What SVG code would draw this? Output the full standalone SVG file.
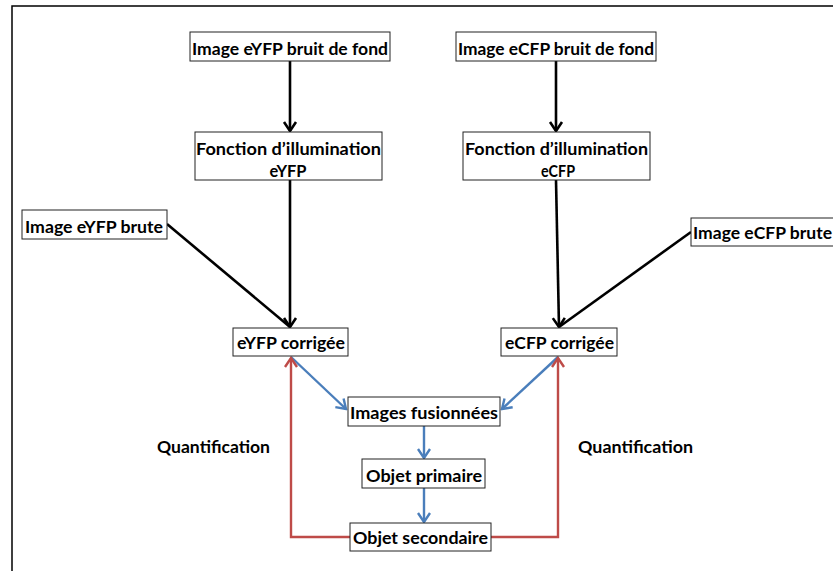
<svg xmlns="http://www.w3.org/2000/svg" width="833" height="571" viewBox="0 0 833 571">
<defs>
<style>
.box{fill:#fff;stroke:#222;stroke-width:1}
.t{font-family:Lato,"Liberation Sans",sans-serif;font-weight:bold;font-size:17.5px;fill:#000;text-anchor:middle}
.k{fill:none;stroke:#000;stroke-width:2.6}
.b{fill:none;stroke:#4A7EBB;stroke-width:2.4}
.r{fill:none;stroke:#BE4B48;stroke-width:2.4}
</style>
<marker id="ak" markerUnits="userSpaceOnUse" viewBox="-12 -8 14 16" markerWidth="14" markerHeight="16" refX="0" refY="0" orient="auto">
<path d="M-9,-6 L0,0 L-9,6" fill="none" stroke="#000" stroke-width="2.6"/>
</marker>
<marker id="ab" markerUnits="userSpaceOnUse" viewBox="-12 -8 14 16" markerWidth="14" markerHeight="16" refX="0" refY="0" orient="auto">
<path d="M-9,-6 L0,0 L-9,6" fill="none" stroke="#4A7EBB" stroke-width="2.4"/>
</marker>
<marker id="ar" markerUnits="userSpaceOnUse" viewBox="-12 -8 14 16" markerWidth="14" markerHeight="16" refX="0" refY="0" orient="auto">
<path d="M-9,-6 L0,0 L-9,6" fill="none" stroke="#BE4B48" stroke-width="2.4"/>
</marker>
</defs>
<rect x="0" y="0" width="833" height="571" fill="#fff"/>
<rect x="12" y="6" width="830" height="580" fill="none" stroke="#000" stroke-width="1.5"/>

<g id="connectors">
<line class="k" x1="290" y1="61" x2="290" y2="131" marker-end="url(#ak)"/>
<line class="k" x1="290" y1="180" x2="290" y2="327" marker-end="url(#ak)"/>
<line class="k" x1="167" y1="224" x2="290" y2="327"/>
<line class="k" x1="556" y1="61" x2="556" y2="131" marker-end="url(#ak)"/>
<line class="k" x1="556" y1="180" x2="559" y2="327" marker-end="url(#ak)"/>
<line class="k" x1="691" y1="232" x2="559" y2="327"/>
<line class="b" x1="291" y1="357" x2="346" y2="409" marker-end="url(#ab)"/>
<line class="b" x1="558" y1="357" x2="502" y2="409" marker-end="url(#ab)"/>
<line class="b" x1="424" y1="426" x2="424" y2="458" marker-end="url(#ab)"/>
<line class="b" x1="424" y1="488" x2="424" y2="522" marker-end="url(#ab)"/>
<polyline class="r" points="350,537 291,537 291,358" marker-end="url(#ar)"/>
<polyline class="r" points="491,537 558,537 558,358" marker-end="url(#ar)"/>
</g>

<g id="n1"><rect class="box" x="190" y="32" width="200" height="29"/><text class="t" x="290" y="55" textLength="196" lengthAdjust="spacingAndGlyphs">Image eYFP bruit de fond</text></g>
<g id="n2"><rect class="box" x="195" y="132" width="187" height="48"/><text class="t" x="288.5" y="155" textLength="185" lengthAdjust="spacingAndGlyphs">Fonction d’illumination</text><text class="t" x="288" y="176.5" textLength="37" lengthAdjust="spacingAndGlyphs">eYFP</text></g>
<g id="n3"><rect class="box" x="456" y="32" width="200" height="29"/><text class="t" x="556" y="55" textLength="196" lengthAdjust="spacingAndGlyphs">Image eCFP bruit de fond</text></g>
<g id="n4"><rect class="box" x="463" y="132" width="187" height="48"/><text class="t" x="556.5" y="155" textLength="183" lengthAdjust="spacingAndGlyphs">Fonction d’illumination</text><text class="t" x="558" y="176.5" textLength="34" lengthAdjust="spacingAndGlyphs">eCFP</text></g>
<g id="n5"><rect class="box" x="22" y="210" width="145" height="29"/><text class="t" x="94" y="233" textLength="138" lengthAdjust="spacingAndGlyphs">Image eYFP brute</text></g>
<g id="n6"><rect class="box" x="691" y="218" width="150" height="28"/><text class="t" x="762.5" y="239" textLength="139" lengthAdjust="spacingAndGlyphs">Image eCFP brute</text></g>
<g id="n7"><rect class="box" x="233" y="328" width="115" height="28"/><text class="t" x="291" y="349" textLength="108" lengthAdjust="spacingAndGlyphs">eYFP corrigée</text></g>
<g id="n8"><rect class="box" x="501" y="328" width="116" height="28"/><text class="t" x="559.5" y="349" textLength="109" lengthAdjust="spacingAndGlyphs">eCFP corrigée</text></g>
<g id="n9"><rect class="box" x="348" y="397" width="152" height="29"/><text class="t" x="424" y="419" textLength="148" lengthAdjust="spacingAndGlyphs">Images fusionnées</text></g>
<g id="n10"><rect class="box" x="362" y="459" width="123" height="29"/><text class="t" x="424" y="482" textLength="116" lengthAdjust="spacingAndGlyphs">Objet primaire</text></g>
<g id="n11"><rect class="box" x="350" y="523" width="141" height="28"/><text class="t" x="420.5" y="544" textLength="135" lengthAdjust="spacingAndGlyphs">Objet secondaire</text></g>
<g id="q1"><text class="t" x="213.5" y="453" textLength="113" lengthAdjust="spacingAndGlyphs">Quantification</text></g>
<g id="q2"><text class="t" x="635.5" y="453" textLength="115" lengthAdjust="spacingAndGlyphs">Quantification</text></g>
</svg>
